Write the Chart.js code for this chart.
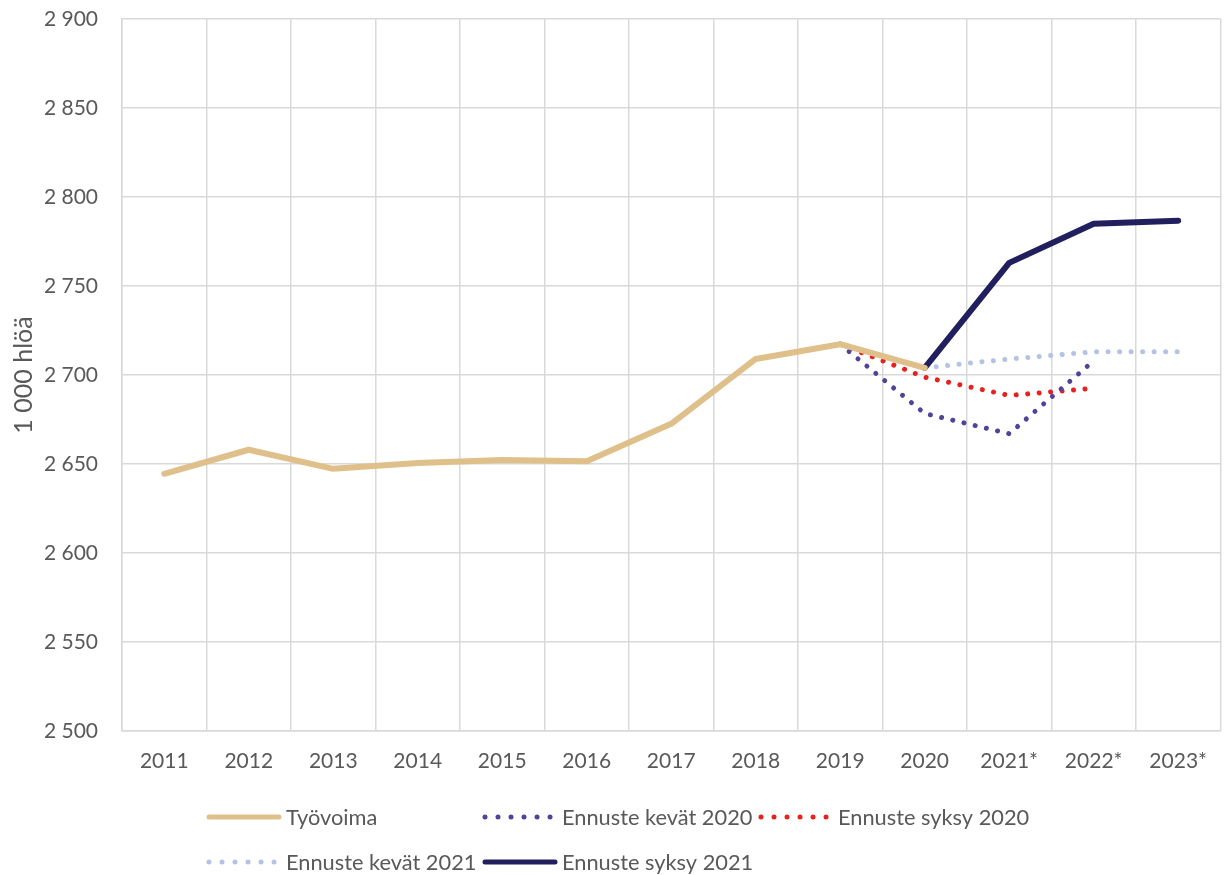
<!DOCTYPE html>
<html>
<head>
<meta charset="utf-8">
<script src="https://cdn.jsdelivr.net/npm/chart.js@4.4.1/dist/chart.umd.min.js"></script>
<style>
  html, body { margin: 0; padding: 0; background: #ffffff; }
  #wrap { width: 1225px; height: 875px; position: relative; }
</style>
</head>
<body>
<div id="wrap"><canvas id="c" width="1225" height="875"></canvas></div>
<script>
// ---- data ----
const categories = ['2011','2012','2013','2014','2015','2016','2017','2018','2019','2020','2021*','2022*','2023*'];
const tyovoima        = [2644.5, 2658, 2647.3, 2650.5, 2652.2, 2651.6, 2672.6, 2709, 2717.3, 2704, null, null, null];
const ennusteKevat2020 = [null, null, null, null, null, null, null, null, 2717.3, 2678.4, 2667, 2708, null];
const ennusteSyksy2020 = [null, null, null, null, null, null, null, null, 2717.3, 2698.8, 2688.5, 2692.6, null];
const ennusteKevat2021 = [null, null, null, null, null, null, null, null, null, 2704, 2709, 2713, 2713];
const ennusteSyksy2021 = [null, null, null, null, null, null, null, null, null, 2704, 2763, 2785, 2786.7];
const seriesNames = ['Työvoima', 'Ennuste kevät 2020', 'Ennuste syksy 2020', 'Ennuste kevät 2021', 'Ennuste syksy 2021'];
const yMin = 2500, yMax = 2900, yStep = 50;
const yTitle = '1 000 hlöä';

const FONT = 'Lato, "Open Sans", sans-serif';
const TXT = '#595959';
const GRID = '#d9d9d9';

function fmt(v) {
  const s = Math.round(v).toString();
  return s.length > 3 ? s.slice(0, s.length - 3) + ' ' + s.slice(-3) : s;
}

function ds(label, data, color, dotted) {
  return {
    label, data,
    borderColor: color, backgroundColor: color,
    borderWidth: dotted ? 5 : 6,
    borderDash: dotted ? [0.01, 11.5] : [],
    borderCapStyle: 'round',
    borderJoinStyle: 'round',
    pointRadius: 0, pointHoverRadius: 0,
    tension: 0, fill: false, spanGaps: false,
    _dotted: dotted
  };
}

const datasets = [
  ds(seriesNames[0], tyovoima, '#dfc08a', false),
  ds(seriesNames[3], ennusteKevat2021, '#b4c2e3', true),
  ds(seriesNames[1], ennusteKevat2020, '#52429a', true),
  ds(seriesNames[2], ennusteSyksy2020, '#e5221d', true),
  ds(seriesNames[4], ennusteSyksy2021, '#221f5f', false)
];

// custom legend laid out in fixed columns like the original
const legendPlugin = {
  id: 'gridLegend',
  afterDraw(chart) {
    const ctx = chart.ctx;
    const order = seriesNames;
    const colX0 = 209, colW = 276, rowY = [817, 862], perRow = 3;
    ctx.save();
    order.forEach((name, i) => {
      const d = chart.data.datasets.find(x => x.label === name);
      const x = colX0 + (i % perRow) * colW;
      const y = rowY[Math.floor(i / perRow)];
      ctx.beginPath();
      ctx.lineCap = 'round';
      ctx.strokeStyle = d.borderColor;
      ctx.lineWidth = 5;
      if (d._dotted) {
        ctx.setLineDash([0.01, 13]);
        ctx.moveTo(x, y); ctx.lineTo(x + 66, y);
      } else {
        ctx.setLineDash([]);
        ctx.moveTo(x, y); ctx.lineTo(x + 70, y);
      }
      ctx.stroke();
      ctx.setLineDash([]);
      ctx.fillStyle = TXT;
      ctx.font = '21.8px ' + FONT;
      ctx.textAlign = 'left';
      ctx.textBaseline = 'middle';
      ctx.fillText(name, x + 77, y + 1);
    });
    ctx.restore();
  }
};

new Chart(document.getElementById('c'), {
  type: 'line',
  data: { labels: categories, datasets },
  plugins: [legendPlugin],
  options: {
    responsive: false,
    animation: false,
    devicePixelRatio: 1,
    layout: { padding: { top: 19, right: 0, left: 0, bottom: 0 } },
    plugins: {
      legend: { display: false },
      tooltip: { enabled: false },
      title: { display: false }
    },
    scales: {
      x: {
        type: 'category',
        offset: true,
        grid: { offset: true, color: GRID, lineWidth: 1.5, drawTicks: false },
        border: { color: GRID, width: 1.5 },
        ticks: { color: TXT, font: { family: FONT, size: 21 }, padding: 18, maxRotation: 0, autoSkip: false },
        afterFit(scale) { scale.height = 144; }
      },
      y: {
        min: yMin, max: yMax,
        grid: { color: GRID, lineWidth: 1.5, drawTicks: false },
        border: { color: GRID, width: 1.5 },
        ticks: { stepSize: yStep, color: TXT, font: { family: FONT, size: 21 }, padding: 24, callback: v => fmt(v) },
        title: { display: true, text: yTitle, color: TXT, font: { family: FONT, size: 25 }, padding: { top: 9, bottom: 0 } },
        afterFit(scale) { scale.width = 122; scale.paddingTop = 0; scale.paddingBottom = 0; }
      }
    }
  }
});
</script>
</body>
</html>
